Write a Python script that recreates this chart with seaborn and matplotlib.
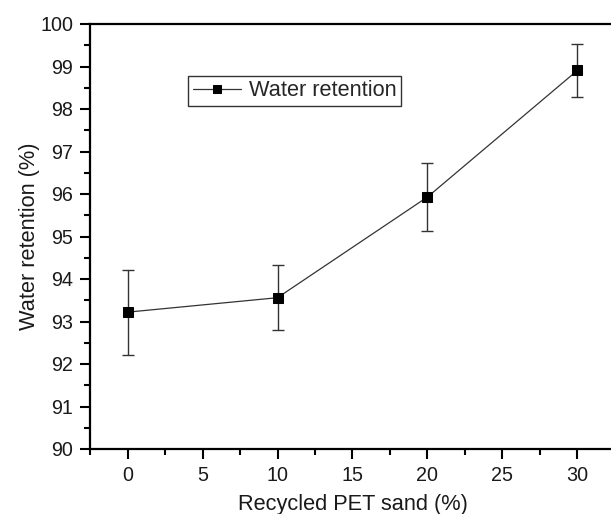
import matplotlib
matplotlib.use("Agg")
import matplotlib.pyplot as plt
from matplotlib.ticker import MultipleLocator
import seaborn as sns
import pandas as pd

# Water retention vs. recycled PET sand replacement
pet_sand = [0, 10, 20, 30]
water_retention = [93.22, 93.56, 95.93, 98.91]
retention_err = [1.0, 0.76, 0.80, 0.63]

sns.set_theme(style="ticks")
plt.rcParams["font.family"] = ["Liberation Sans", "DejaVu Sans"]

df = pd.DataFrame({"pet": pet_sand, "wr": water_retention, "err": retention_err})

fig = plt.figure(figsize=(6.11, 5.14), dpi=100)
ax = fig.add_axes([90 / 611, 65 / 514, 525 / 611, 425 / 514])

ax.errorbar(df["pet"], df["wr"], yerr=df["err"], fmt="none",
            ecolor="#333333", elinewidth=1.0, capsize=4.5, capthick=1.0, zorder=2)
sns.lineplot(data=df, x="pet", y="wr", ax=ax, color="#333333", linewidth=0.9,
             marker="s", markersize=7.5, markerfacecolor="black",
             markeredgecolor="black", label="Water retention", zorder=3)

ax.set_xlim(-2.5, 32.5)
ax.set_ylim(90, 100)
ax.xaxis.set_major_locator(MultipleLocator(5))
ax.xaxis.set_minor_locator(MultipleLocator(2.5))
ax.yaxis.set_major_locator(MultipleLocator(1))
ax.yaxis.set_minor_locator(MultipleLocator(0.5))

ax.tick_params(which="major", direction="out", length=7, width=1.5,
               labelsize=14.2, color="black", labelcolor="#1a1a1a", pad=5)
ax.tick_params(which="minor", direction="out", length=4, width=1.5, color="black")
ax.tick_params(top=False, right=False)

for side in ["left", "bottom", "top", "right"]:
    ax.spines[side].set_linewidth(1.6)
    ax.spines[side].set_color("black")

ax.set_xlabel("Recycled PET sand (%)", fontsize=15.7, color="#1a1a1a", labelpad=7)
ax.set_ylabel("Water retention (%)", fontsize=15.7, color="#1a1a1a", labelpad=0)

leg = ax.legend(loc="upper left", bbox_to_anchor=(0.187, 0.878), fontsize=15.7,
                frameon=True, fancybox=False, shadow=False, borderpad=0.2,
                handlelength=2.2, handletextpad=0.4, borderaxespad=0,
                markerscale=0.8)
leg.get_frame().set_edgecolor("black")
leg.get_frame().set_linewidth(1.0)

fig.savefig("out.png", dpi=100)
